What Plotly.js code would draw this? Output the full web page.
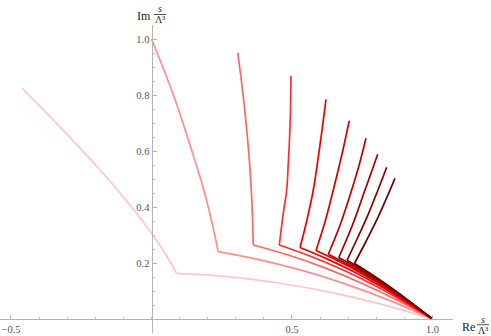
<!DOCTYPE html>
<html><head><meta charset="utf-8">
<script src="https://cdn.plot.ly/plotly-3.0.1.min.js"></script>
<style>html,body{margin:0;padding:0;background:#fff}#chart{width:491px;height:336px}</style>
</head><body><div id="chart"></div>
<script>
// Upper branches (from the free end down to the corner)
const upperRe = [
 [-0.46,-0.32,-0.183,-0.09,0.0,0.05,0.0897],
 [0.0,0.078,0.144,0.175,0.202,0.225,0.2372],
 [0.3068,0.3238,0.3385,0.3495,0.3573,0.3623],
 [0.4964,0.4947,0.4911,0.4868,0.4811,0.4690,0.4548],
 [0.6210,0.5996,0.5758,0.5516,0.5285],
 [0.7039,0.6772,0.6470,0.6174,0.5854],
 [0.7633,0.7391,0.7125,0.6726,0.6292],
 [0.8050,0.7829,0.7598,0.7153,0.6665],
 [0.8370,0.8060,0.7719,0.7349,0.6957],
 [0.8665,0.8335,0.8000,0.7623,0.7224]
];
const upperIm = [
 [0.824,0.680,0.532,0.423,0.306,0.231,0.1632],
 [1.0,0.8,0.6,0.5,0.4,0.3,0.2404],
 [0.9511,0.82,0.68,0.55,0.42,0.2643],
 [0.8679,0.7464,0.6393,0.5561,0.4607,0.3775,0.2643],
 [0.7846,0.6214,0.4607,0.3464,0.2554],
 [0.7082,0.5857,0.4607,0.3464,0.2446],
 [0.6454,0.55,0.4607,0.3393,0.2314],
 [0.5882,0.525,0.4607,0.3357,0.2196],
 [0.5418,0.4607,0.3757,0.2929,0.2096],
 [0.5025,0.425,0.3504,0.275,0.1982]
];
// Lower branches (from the corner to s/Λ³ = 1)
const lowerRe = [
 [0.0897,0.2715,0.4530,0.6349,0.8164,1.0],
 [0.2372,0.3897,0.5420,0.6940,0.8463,1.0],
 [0.3623,0.4893,0.6167,0.7438,0.8712,1.0],
 [0.4548,0.5633,0.6722,0.7808,0.8897,1.0],
 [0.5285,0.6224,0.7164,0.8103,0.9043,1.0],
 [0.5854,0.6680,0.7505,0.8331,0.9157,1.0],
 [0.6292,0.7028,0.7769,0.8505,0.9246,1.0],
 [0.6665,0.7327,0.7993,0.8655,0.9320,1.0],
 [0.6957,0.7562,0.8167,0.8772,0.9377,1.0],
 [0.7224,0.7776,0.8327,0.8879,0.9431,1.0]
];
const lowerIm = [
 [0.1632,0.1514,0.1286,0.0961,0.0532,0],
 [0.2404,0.2104,0.1718,0.1236,0.0664,0],
 [0.2643,0.2275,0.1825,0.1296,0.0689,0],
 [0.2643,0.2250,0.1793,0.1264,0.0664,0],
 [0.2554,0.2157,0.1704,0.1193,0.0625,0],
 [0.2446,0.2050,0.1604,0.1114,0.0582,0],
 [0.2314,0.1929,0.1511,0.1046,0.0543,0],
 [0.2196,0.1825,0.1421,0.0982,0.0507,0],
 [0.2096,0.1736,0.1343,0.0925,0.0475,0],
 [0.1982,0.1632,0.1257,0.0861,0.0443,0]
];
const xTickVals = [-0.5, 0.5, 1.0];
const xTickText = ['\u22120.5', '0.5', '1.0'];
const yTickVals = [0.2, 0.4, 0.6, 0.8, 1.0];
const yTickText = ['0.2', '0.4', '0.6', '0.8', '1.0'];

const colors = ['#FFC6C6','#FF8E8E','#FF6666','#FF2E2E','#F40000','#DA0000','#BE0000','#A20000','#880000','#6C0000'];

const traces = [];
for (let i = 0; i < upperRe.length; i++) {
  traces.push({x: upperRe[i], y: upperIm[i], mode: 'lines', type: 'scatter',
    line: {color: colors[i], width: 1.7, shape: 'spline', smoothing: 1}, hoverinfo: 'skip', showlegend: false});
  traces.push({x: lowerRe[i], y: lowerIm[i], mode: 'lines', type: 'scatter',
    line: {color: colors[i], width: 1.7, shape: 'spline', smoothing: 1}, hoverinfo: 'skip', showlegend: false});
}

const W = 491, H = 336, ml = 0, mr = 38, mt = 25, mb = 3;
const pw = W - ml - mr, ph = H - mt - mb;
const px = v => (v - ml) / pw;
const py = v => (H - mb - v) / ph;
const serif = 'Liberation Serif, DejaVu Serif, serif';
const tickFont = {family: serif, size: 10.5, color: '#555'};
const labFont = {family: serif, size: 12, color: '#222'};
const fracItal = {family: serif, size: 10, color: '#222', style: 'italic'};
const fracFont = {family: serif, size: 10, color: '#222'};

const layout = {
  width: W, height: H,
  margin: {l: ml, r: mr, t: mt, b: mb, pad: 0},
  paper_bgcolor: '#fff', plot_bgcolor: '#fff',
  showlegend: false,
  xaxis: {range: [-0.5391, 1.0730], anchor: 'free', position: 14/308, showline: true,
    linecolor: '#b4b4b4', linewidth: 1, showgrid: false, zeroline: false,
    ticks: 'inside', ticklen: 4, tickwidth: 1, tickcolor: '#b4b4b4',
    tickmode: 'array', tickvals: xTickVals, ticktext: xTickText, tickfont: tickFont,
    minor: {tick0: 0, dtick: 0.1, ticks: 'inside', ticklen: 2.5, tickcolor: '#c4c4c4', showgrid: false},
    automargin: false, fixedrange: true},
  yaxis: {range: [-0.05, 1.05], anchor: 'free', position: 151.5/pw, showline: true,
    linecolor: '#b4b4b4', linewidth: 1, showgrid: false, zeroline: false,
    ticks: 'inside', ticklen: 4, tickwidth: 1, tickcolor: '#b4b4b4',
    tickmode: 'array', tickvals: yTickVals, ticktext: yTickText, tickfont: tickFont,
    minor: {tick0: 0, dtick: 0.05, ticks: 'inside', ticklen: 2.5, tickcolor: '#c4c4c4', showgrid: false},
    automargin: false, fixedrange: true},
  annotations: [
    {xref: 'paper', yref: 'paper', x: px(144), y: py(16.5), text: 'Im', showarrow: false, font: labFont, xanchor: 'center', yanchor: 'middle'},
    {xref: 'paper', yref: 'paper', x: px(159.5), y: py(8.5), text: 's', showarrow: false, font: fracItal, xanchor: 'center', yanchor: 'middle'},
    {xref: 'paper', yref: 'paper', x: px(160), y: py(19.5), text: '\u039B\u00B3', showarrow: false, font: fracFont, xanchor: 'center', yanchor: 'middle'},
    {xref: 'paper', yref: 'paper', x: px(468), y: py(326.5), text: 'Re', showarrow: false, font: labFont, xanchor: 'center', yanchor: 'middle'},
    {xref: 'paper', yref: 'paper', x: px(483), y: py(319), text: 's', showarrow: false, font: fracItal, xanchor: 'center', yanchor: 'middle'},
    {xref: 'paper', yref: 'paper', x: px(483), y: py(330), text: '\u039B\u00B3', showarrow: false, font: fracFont, xanchor: 'center', yanchor: 'middle'}
  ],
  shapes: [
    {type: 'line', xref: 'paper', yref: 'paper', x0: px(154), x1: px(166), y0: py(14.5), y1: py(14.5), line: {color: '#222', width: 0.8}},
    {type: 'line', xref: 'paper', yref: 'paper', x0: px(477), x1: px(489), y0: py(324.7), y1: py(324.7), line: {color: '#222', width: 0.8}}
  ]
};

Plotly.newPlot('chart', traces, layout, {staticPlot: true, displayModeBar: false});
</script>
</body></html>
